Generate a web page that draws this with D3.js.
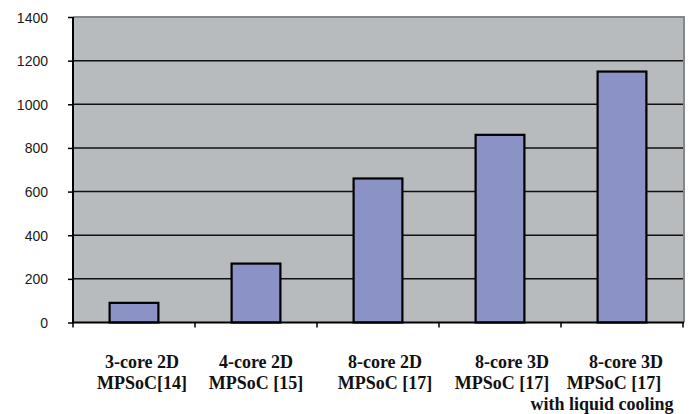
<!DOCTYPE html>
<html><head><meta charset="utf-8">
<script src="https://cdn.jsdelivr.net/npm/d3@7"></script>
<style>body{margin:0;background:#fff;} svg{display:block;}</style>
</head><body>
<svg id="c" width="692" height="414"></svg>
<script>
const categories = ["3-core 2D MPSoC[14]", "4-core 2D MPSoC [15]", "8-core 2D MPSoC [17]", "8-core 3D MPSoC [17]", "8-core 3D MPSoC [17] with liquid cooling"];
const labelLines = [["3-core 2D","MPSoC[14]"],["4-core 2D","MPSoC [15]"],["8-core 2D","MPSoC [17]"],["8-core 3D","MPSoC [17]"],["8-core 3D","MPSoC [17]","with liquid cooling"]];
const values = [90, 270, 660, 860, 1150];
const yTicks = [0, 200, 400, 600, 800, 1000, 1200, 1400];

// layout (not data)
const L = {left:73, right:684, top:17, bottom:322.5};
const lineDx = [[8,8],[0,0],[7,7],[12,2],[4,-8,-20]];

const svg = d3.select("#c");
const x = d3.scaleBand().domain(categories).range([L.left, L.right - 1]).padding(0);
const y = d3.scaleLinear().domain([0, 1400]).range([L.bottom, L.top]);

// plot background
svg.append("rect").attr("x", L.left).attr("y", L.top).attr("width", L.right - L.left).attr("height", L.bottom - L.top).attr("fill", "#b8bbbe");

// gridlines
svg.append("g").selectAll("line").data(yTicks.filter(d => d > 0 && d < 1400)).join("line")
  .attr("x1", L.left).attr("x2", L.right).attr("y1", d => y(d)).attr("y2", d => y(d))
  .attr("stroke", "#111").attr("stroke-width", 1.5);

// top & right border
svg.append("path").attr("d", `M${L.left},${L.top}H${L.right}V${L.bottom}`)
  .attr("fill", "none").attr("stroke", "#85888b").attr("stroke-width", 2);

// bars
const bw = x.bandwidth() * 0.4;
svg.append("g").selectAll("rect").data(values).join("rect")
  .attr("x", (d, i) => x(categories[i]) + x.bandwidth() / 2 - bw / 2)
  .attr("y", d => y(d)).attr("width", bw).attr("height", d => y(0) - y(d))
  .attr("fill", "#8b92c6").attr("stroke", "#000").attr("stroke-width", 2.2);

// y axis
const yAxis = d3.axisLeft(y).tickValues(yTicks).tickSize(5).tickPadding(20).tickFormat(d3.format("d"));
const gy = svg.append("g").attr("transform", `translate(${L.left},0)`).call(yAxis);
gy.select(".domain").attr("stroke", "#000").attr("stroke-width", 2).attr("d", `M0,${L.top}V${L.bottom + 1}`);
gy.selectAll(".tick line").attr("stroke", "#000").attr("stroke-width", 1.5);
gy.selectAll(".tick text").attr("font-family", "Liberation Sans, Arial, sans-serif").attr("font-size", 14).attr("fill", "#1a1a1a").attr("dy", "0.36em");

// x axis (ticks at category boundaries)
const gx = svg.append("g");
gx.append("line").attr("x1", L.left).attr("x2", L.right).attr("y1", L.bottom).attr("y2", L.bottom).attr("stroke", "#000").attr("stroke-width", 2);
const bounds = categories.map(c => x(c)).concat([x(categories[categories.length - 1]) + x.bandwidth()]);
gx.selectAll("line.t").data(bounds).join("line").attr("class", "t")
  .attr("x1", d => d).attr("x2", d => d).attr("y1", L.bottom).attr("y2", L.bottom + 5)
  .attr("stroke", "#000").attr("stroke-width", 1.5);

// category labels
const lab = svg.append("g").attr("font-family", "Liberation Serif, 'Times New Roman', serif").attr("font-weight", "bold").attr("font-size", 18).attr("fill", "#111").attr("text-anchor", "middle");
labelLines.forEach((lines, i) => {
  const cx = x(categories[i]) + x.bandwidth() / 2;
  lines.forEach((t, j) => {
    lab.append("text").attr("x", cx + lineDx[i][j]).attr("y", 368 + j * 21).text(t);
  });
});
</script>
</body></html>
